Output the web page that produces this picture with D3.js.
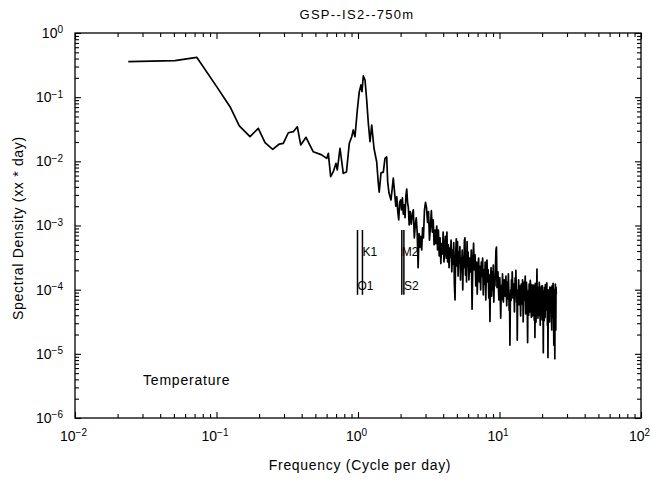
<!DOCTYPE html>
<html><head><meta charset="utf-8">
<script src="https://cdn.jsdelivr.net/npm/d3@7"></script>
<style>
body{margin:0;background:#fff}
text{font-family:"Liberation Sans",Arial,Helvetica,sans-serif;fill:#000}
</style>
</head><body>
<svg id="c" width="653" height="482"></svg>
<script>
// ---- chart text ----
const chartTitle = "GSP--IS2--750m";
const xTitle = "Frequency (Cycle per day)";
const yTitle = "Spectral Density (xx * day)";
const seriesName = "Temperature";
// ---- axis decades (tick labels are 10^exp) ----
const xTickExps = [-2, -1, 0, 1, 2];
const yTickExps = [0, -1, -2, -3, -4, -5, -6];
// ---- spectrum (frequency in cpd, spectral density) ----
const freq = [
 0.0238,0.0509,0.0725,0.1003,0.1246,0.1449,0.1725,0.1974,0.2203,0.2495,0.278,0.2965,0.3217,0.349,0.3725,0.3937,0.429,0.483,0.554,0.601,0.617,0.641,0.669,0.699,0.714,0.746,0.787,0.829,0.868,0.903,0.926,0.952,0.989,1.021,1.050,1.067,1.090,1.121,1.152,1.183,1.216,1.250,1.297,
 1.356,1.391,1.412,1.454,1.510,1.551,1.595,1.621,1.656,1.711,1.776,
 1.85,1.88,1.91,1.94,1.97,2.00,2.03,2.06,2.09,2.12,2.15,2.18,2.21,2.24,2.27,2.30,
 2.34,2.38,2.42,2.46,2.50,2.54,2.58,2.62,2.66,2.70,2.74,2.78,2.82,2.86,2.90,
 2.95,3.00,3.05,3.10,3.15,3.20,3.25,3.30,3.35,3.40,3.45,3.50,3.55,3.60,3.65,3.70,3.75,3.80,3.85,3.90,3.95,4.00,4.05,4.10,
 4.15,4.20,4.25,4.30,4.35,4.40,4.45,4.50,4.55,4.60,4.65,4.70,4.75,4.80,4.85,4.90,4.95,5.00,5.05,5.10,5.15,5.20,5.25,5.30,5.35,5.40,5.45,5.50,5.55,5.60,5.65,5.70,5.75,5.80,5.85,5.90,5.95,6.00,
 6.08,6.16,6.24,6.32,6.40,6.48,6.56,6.64,6.72,6.80,6.88,6.96,7.04,7.12,7.20,7.28,7.36,7.44,7.52,7.60,7.68,7.76,7.84,7.92,8.00,8.08,8.16,8.24,8.32,8.40,8.48,8.56,8.64,8.72,8.80,8.88,8.96,9.04,9.12,9.20,9.28,9.36,9.44,9.52,9.60,
 9.75,9.825,9.90,9.975,10.05,10.125,10.20,10.275,10.35,10.425,10.50,10.575,10.65,10.725,10.80,10.875,10.95,11.025,11.10,11.175,11.25,11.325,11.40,11.475,11.55,11.625,11.70,11.775,11.85,11.925,12.00,12.075,12.15,12.225,12.30,12.375,12.45,12.525,12.60,12.675,12.75,12.825,12.90,12.975,13.05,13.125,13.20,13.275,13.35,13.425,13.50,13.575,13.65,13.725,13.80,13.875,13.95,14.025,14.10,14.175,14.25,14.325,14.40,14.475,14.55,14.625,14.70,14.775,14.85,14.925,15.00,
 15.2,15.3,15.4,15.5,15.6,15.7,15.8,15.9,16.0,16.1,16.2,16.3,16.4,16.5,16.6,16.7,16.8,16.9,17.0,17.1,17.2,17.3,17.4,17.5,17.6,17.7,17.8,17.9,18.0,18.1,18.2,18.3,18.4,18.5,18.6,18.7,18.8,18.9,19.0,19.1,19.2,19.3,19.4,19.5,19.6,19.7,19.8,19.9,20.0,20.1,
 20.2,20.3,20.4,20.5,20.6,20.7,20.8,20.9,21.0,21.1,21.2,21.3,21.4,21.5,21.6,21.7,21.8,21.9,22.0,22.1,22.2,22.3,22.4,22.5,22.6,22.7,22.8,22.9,23.0,23.1,23.2,23.3,23.4,23.5,23.6,23.7,23.8,23.9,24.0,24.1,24.2,24.3,24.4,24.5,24.6,24.7,24.8,24.9,25.0,25.1,25.2
];
const psd = [
 0.357,0.370,0.418,0.146,0.0710,0.0356,0.0242,0.0327,0.0195,0.0154,0.0186,0.0191,0.0279,0.0290,0.0347,0.0180,0.0237,0.0141,0.0126,0.0111,0.0133,0.00577,0.00690,0.00932,0.00733,0.0160,0.00651,0.00683,0.0191,0.0242,0.0308,0.0242,0.0631,0.1217,0.155,0.1217,0.214,0.185,0.0904,0.0392,0.0202,0.0368,0.0160,
 0.00977,0.0046,0.0033,0.0066,0.0068,0.0111,0.0117,0.0048,0.0032,0.0025,0.0055,
 2.0e-3,2.8e-3,1.65e-3,1.22e-3,2.3e-3,2.5e-3,1.75e-3,2.7e-3,1.5e-3,2.09e-3,1.32e-3,2.9e-3,3.7e-3,2.3e-3,1.9e-3,1.02e-3,
 1.65e-3,1.05e-3,1.5e-3,1.75e-3,6.4e-4,1.02e-3,1.32e-3,7.9e-4,2.2e-4,7.5e-4,4.6e-4,6.8e-4,4.15e-4,9.2e-4,6.4e-4,
 1.75e-3,2.3e-3,1.9e-3,1.12e-3,1.65e-3,5.9e-4,9.8e-4,1.7e-3,7.9e-4,1.22e-3,5.0e-4,8.5e-4,5.2e-4,9.8e-4,4.15e-4,8.5e-4,3.35e-4,6.4e-4,2.55e-4,5.2e-4,3.6e-4,7.9e-4,2.7e-4,4.45e-4,
 6.8e-4,3.1e-4,7.9e-4,2.7e-4,5.0e-4,2.2e-4,4.45e-4,3.2e-4,5.9e-4,1.9e-4,4.15e-4,2.5e-4,5.4e-4,1.18e-4,6.9e-5,3.5e-4,6.2e-4,2.35e-4,5.6e-4,1.63e-4,3.85e-4,2.7e-4,4.7e-4,1.42e-4,3.1e-4,2.03e-4,4.15e-4,9.9e-5,3.35e-4,2.2e-4,5.9e-4,6.4e-4,1.69e-4,3.5e-4,1.32e-4,5.6e-4,2.42e-4,3.85e-4,
 1.42e-4,3.1e-4,1.9e-4,4.15e-4,4.95e-5,2.7e-4,5.3e-4,2.03e-4,3.5e-4,1.14e-4,2.7e-4,8.5e-5,2.2e-4,3.1e-4,1.32e-4,2.3e-4,9.9e-5,2.7e-4,1.63e-4,3.1e-4,8.3e-5,2.03e-4,1.22e-4,2.7e-4,6.9e-5,2.2e-4,2.9e-4,1.32e-4,2.03e-4,7.4e-5,1.69e-4,3.2e-5,1.42e-4,2.2e-4,7.9e-5,1.9e-4,9.9e-5,2.42e-4,6.4e-5,1.53e-4,1.14e-4,2.2e-4,4.15e-4,4.6e-4,1.08e-4,
 1.9e-4,1.1e-4,6.9e-5,1.0e-4,1.53e-4,7.8e-5,3.6e-5,8.5e-5,1.18e-4,7.0e-5,
 1.76e-4,1.2e-4,6.4e-5,9.5e-5,1.42e-4,1.15e-4,7.9e-5,1.05e-4,1.63e-4,8.8e-5,
 5.6e-5,1.0e-4,1.32e-4,7.2e-5,1.76e-4,1.05e-4,4.8e-5,8.0e-5,1.37e-5,6.0e-5,
 9.9e-5,6.8e-5,1.42e-4,9.0e-5,1.9e-4,1.3e-4,7.4e-5,1.05e-4,1.22e-4,8.4e-5,
 4.5e-5,9.6e-5,1.53e-4,8.2e-5,2.0e-4,1.25e-4,6.4e-5,9.0e-5,1.64e-5,5.4e-5,
 9.9e-5,7.0e-5,1.42e-4,1.0e-4,5.8e-5,8.4e-5,1.14e-4,7.6e-5,3.9e-5,8.0e-5,
 1.22e-4,1.0e-4,7.9e-5,6.0e-5,1.42e-4,9.4e-5,3.15e-5,6.4e-5,9.9e-5,1.3e-4,
 6.9e-5,
 1.63e-4,4.2e-5,5.8e-5,1.3e-4,9.9e-5,6.0e-5,1.5e-5,9.5e-5,7.9e-5,4.0e-5,
 1.22e-4,8.0e-5,4.5e-5,1.4e-4,1.08e-4,5.5e-5,3.7e-5,1.2e-4,9.1e-5,3.9e-5,
 6.9e-5,5.2e-5,1.18e-4,7.8e-5,3.37e-5,1.1e-4,1.8e-5,1.25e-4,8.3e-5,3.1e-5,
 4.8e-5,9.0e-5,2.1e-4,4.4e-5,6.9e-5,3.6e-5,1.08e-4,7.0e-5,4.0e-5,1.3e-4,
 9.9e-5,5.0e-5,2.8e-5,1.05e-4,7.9e-5,4.1e-5,1.14e-4,6.2e-5,3.37e-5,1.15e-4,
 7.4e-5,4.6e-5,1.04e-5,9.4e-5,6.9e-5,3.3e-5,1.08e-4,7.6e-5,3.7e-5,1.2e-4,
 8.6e-5,5.4e-5,4.8e-5,9.2e-5,1.28e-4,6.0e-5,2.8e-5,1.0e-4,8.8e-6,4.2e-5,
 6.9e-5,3.5e-5,9.9e-5,6.6e-5,3.15e-5,1.1e-4,7.9e-5,5.8e-5,4.5e-5,8.0e-5,
 1.08e-4,3.9e-5,2.35e-5,1.15e-4,7.4e-5,5.0e-5,3.7e-5,1.25e-4,9.1e-5,5.5e-5,
 1.37e-5,1.0e-4,6.9e-5,4.4e-5,8.4e-6,6.0e-5,1.22e-4,5.2e-5,2.35e-5,1.1e-4,
 8.3e-5
];
// ---- tidal constituent markers ----
const tideNames = ["O1", "K1", "M2", "S2"];
const tideFreq = [0.992, 1.075, 2.04, 2.11];
const tideLineTop = 8.5e-4;
const tideLineBottom = 8.3e-5;
const tideLabelLevel = [1.0e-4, 3.3e-4, 3.3e-4, 1.0e-4];

// ---- layout ----
const M = {l: 75, r: 641, t: 33, b: 418};
const svg = d3.select("#c");
const x = d3.scaleLog().domain([1e-2, 1e2]).range([M.l, M.r]);
const y = d3.scaleLog().domain([1e-6, 1]).range([M.b, M.t]);

function logTicks(exps) {
  const lo = d3.min(exps), hi = d3.max(exps);
  const major = [], minor = [];
  for (let e = lo; e <= hi; e++) {
    major.push(Math.pow(10, e));
    if (e < hi) for (let k = 2; k <= 9; k++) minor.push(k * Math.pow(10, e));
  }
  return {major, minor};
}
const xt = logTicks(xTickExps), yt = logTicks(yTickExps);
const MAJ = 6, MIN = 4;

function addAxis(axisFn, scale, ticks, tr, withLabels, pad) {
  const gMaj = svg.append("g").attr("transform", tr)
    .call(axisFn(scale).tickValues(ticks.major).tickSizeInner(-MAJ).tickSizeOuter(0).tickPadding(pad || 3)
      .tickFormat(() => ""));
  const gMin = svg.append("g").attr("transform", tr)
    .call(axisFn(scale).tickValues(ticks.minor).tickSizeInner(-MIN).tickSizeOuter(0).tickFormat(() => ""));
  [gMaj, gMin].forEach(g => {
    g.select(".domain").remove();
    g.selectAll("line").attr("stroke", "#000").attr("stroke-width", 1.1);
    g.attr("font-size", null).attr("font-family", null);
  });
  if (!withLabels) gMaj.selectAll("text").remove();
  return gMaj;
}

const gx = addAxis(d3.axisBottom, x, xt, `translate(0,${M.b})`, true, 13);
addAxis(d3.axisTop, x, xt, `translate(0,${M.t})`, false);
const gy = addAxis(d3.axisLeft, y, yt, `translate(${M.l},0)`, true, 12);
addAxis(d3.axisRight, y, yt, `translate(${M.r},0)`, false);

function supLabel(sel) {
  sel.each(function(d) {
    const e = Math.round(Math.log10(d));
    const t = d3.select(this).text(null).style("font-size", "14px");
    t.append("tspan").text("10");
    t.append("tspan").attr("dy", "-0.45em").style("font-size", "10px")
      .text(e < 0 ? "\u2212" + (-e) : String(e));
  });
}
gx.selectAll("text").call(supLabel).attr("dx", "-2");
gy.selectAll("text").call(supLabel);

// frame
svg.append("rect").attr("x", M.l).attr("y", M.t).attr("width", M.r - M.l).attr("height", M.b - M.t)
  .attr("fill", "none").attr("stroke", "#000").attr("stroke-width", 1.3);

// spectrum line
const data = freq.map((f, i) => ({f, s: psd[i]})).filter(d => d.s != null);
svg.append("path").datum(data)
  .attr("fill", "none").attr("stroke", "#000").attr("stroke-width", 1.7).attr("stroke-linejoin", "round")
  .attr("d", d3.line().x(d => x(d.f)).y(d => y(d.s)));

// tidal markers
tideFreq.forEach((f, i) => {
  svg.append("line").attr("x1", x(f)).attr("x2", x(f)).attr("y1", y(tideLineTop)).attr("y2", y(tideLineBottom))
    .attr("stroke", "#000").attr("stroke-width", 1.5);
  svg.append("text").attr("x", x(f)).attr("y", y(tideLabelLevel[i])).style("font-size", "12px")
    .text(tideNames[i]);
});

// titles
svg.append("text").attr("x", 357).attr("y", 19).attr("text-anchor", "middle")
  .style("font-size", "13px").style("letter-spacing", "1.3px").text(chartTitle);
svg.append("text").attr("x", 360).attr("y", 470).attr("text-anchor", "middle")
  .style("font-size", "14px").style("letter-spacing", "0.7px").text(xTitle);
svg.append("text").attr("transform", "translate(23,228) rotate(-90)").attr("text-anchor", "middle")
  .style("font-size", "14px").style("letter-spacing", "0.7px").text(yTitle);
svg.append("text").attr("x", 143).attr("y", 385)
  .style("font-size", "14px").style("letter-spacing", "0.8px").text(seriesName);
</script>
</body></html>
